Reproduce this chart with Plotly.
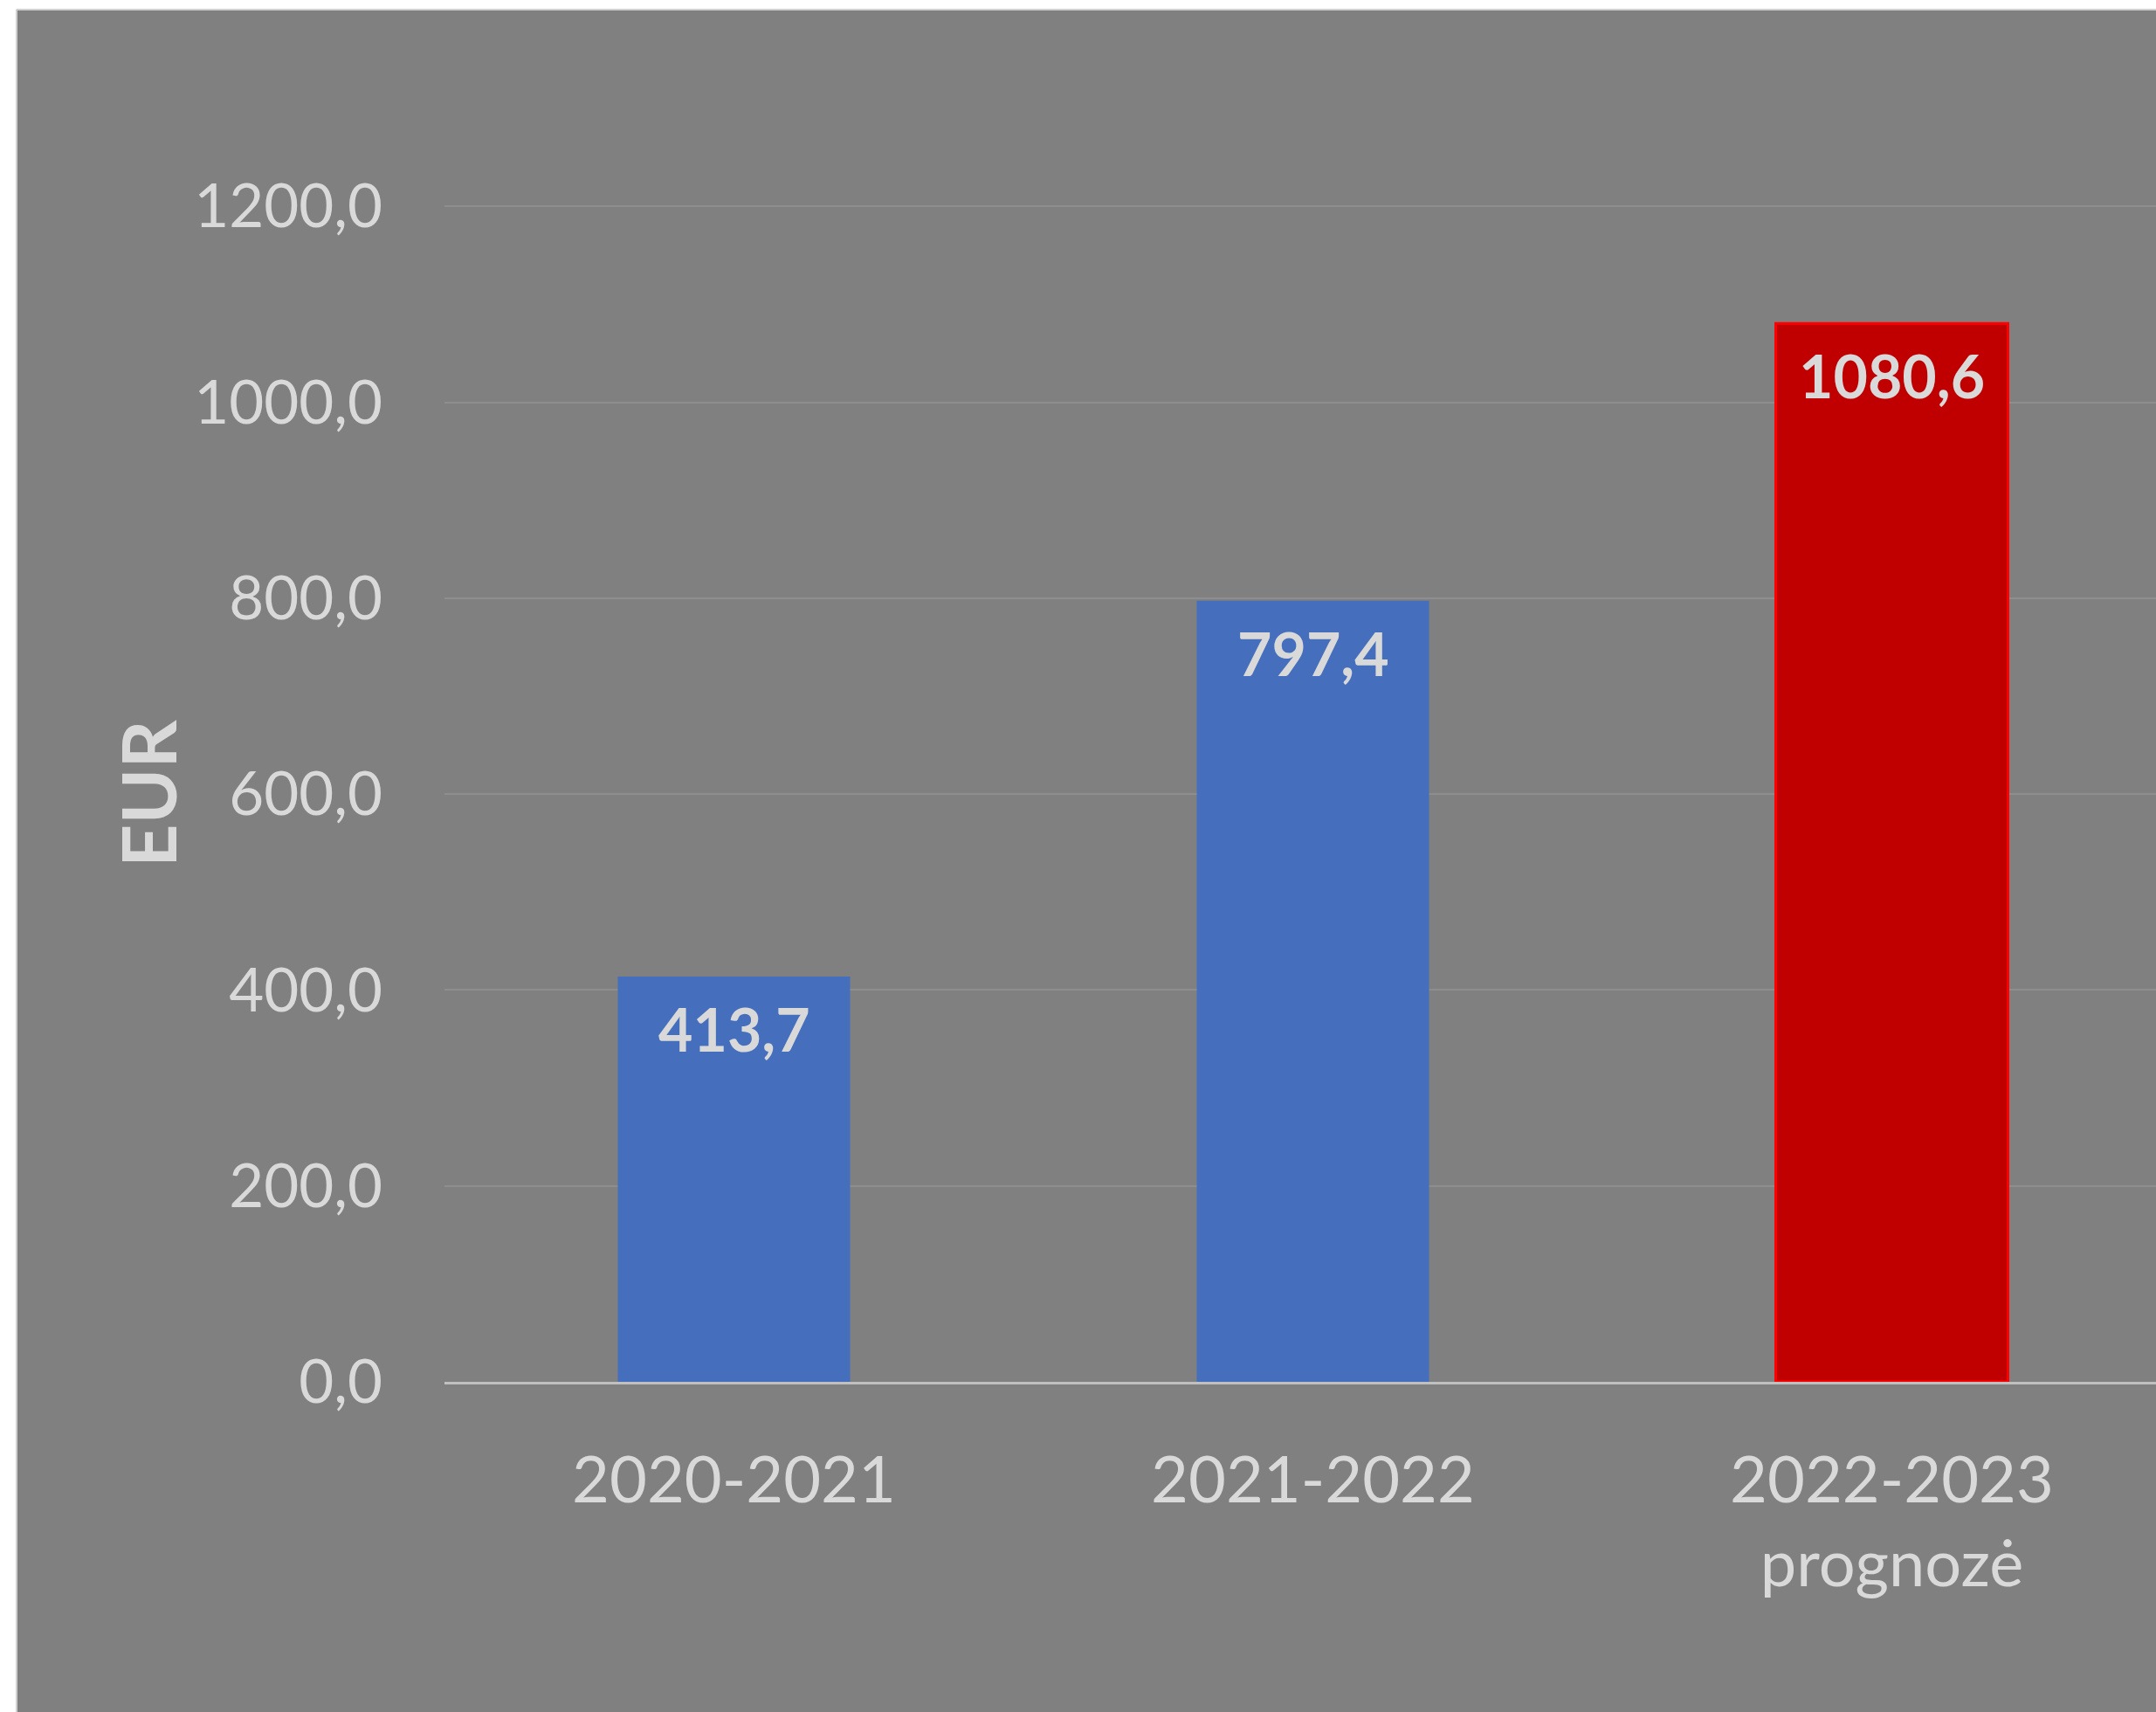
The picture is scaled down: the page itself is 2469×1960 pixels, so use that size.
import plotly.graph_objects as go

# ---- data ----
categories = ["2020-2021", "2021-2022", "2022-2023<br>prognozė"]
values = [413.7, 797.4, 1080.6]
value_labels = ["413,7", "797,4", "1080,6"]
y_tick_values = [0, 200, 400, 600, 800, 1000, 1200]
y_tick_labels = ["0,0", "200,0", "400,0", "600,0", "800,0", "1000,0", "1200,0"]
y_axis_title = "EUR"

# ---- styles ----
BG = "#808080"
TXT = "#D9D9D9"
bar_colors = ["#456FBD", "#456FBD", "#C00000"]
bar_line_colors = ["rgba(0,0,0,0)", "rgba(0,0,0,0)", "#FF0000"]
FONT = "Lato"

W, H = 2469, 1960
L, R, T, B = 509, 0, 12, 378
plot_w = W - L - R
plot_h = H - T - B
cat_px = 663.0

fig = go.Figure()
fig.add_trace(go.Bar(
    x=list(range(len(categories))),
    y=values,
    marker=dict(color=bar_colors, line=dict(color=bar_line_colors, width=3)),
    hoverinfo="skip",
))

for i, (v, lab) in enumerate(zip(values, value_labels)):
    fig.add_annotation(
        x=i, y=v, xref="x", yref="y", text="<b>%s</b>" % lab,
        showarrow=False, xanchor="center", yanchor="top", yshift=-17,
        font=dict(family=FONT, size=68, color=TXT),
    )

# y axis title
fig.add_annotation(
    xref="paper", yref="paper",
    x=(168 - L) / plot_w, y=(1582 - 909) / plot_h,
    xanchor="center", yanchor="middle",
    text="<b>%s</b>" % y_axis_title, textangle=-90, showarrow=False,
    font=dict(family=FONT, size=86, color=TXT),
)

# white frame strips (top and left) with light border line
fig.add_shape(type="rect", xref="paper", yref="paper",
              x0=-L / plot_w - 0.01, x1=(19 - L) / plot_w,
              y0=-B / plot_h - 0.01, y1=(plot_h + T) / plot_h + 0.01,
              fillcolor="white", line=dict(width=0), layer="below")
fig.add_shape(type="rect", xref="paper", yref="paper",
              x0=-L / plot_w - 0.01, x1=1.01,
              y0=(plot_h + T - 11) / plot_h, y1=(plot_h + T) / plot_h + 0.01,
              fillcolor="white", line=dict(width=0), layer="below")
fig.add_shape(type="line", xref="paper", yref="paper",
              x0=(19 - L) / plot_w, x1=(19 - L) / plot_w,
              y0=-B / plot_h - 0.01, y1=(plot_h + T - 11) / plot_h,
              line=dict(color="#D0D0D0", width=2), layer="below")
fig.add_shape(type="line", xref="paper", yref="paper",
              x0=(19 - L) / plot_w, x1=1.01,
              y0=(plot_h + T - 11) / plot_h, y1=(plot_h + T - 11) / plot_h,
              line=dict(color="#D0D0D0", width=2), layer="below")

fig.update_layout(
    width=W, height=H,
    margin=dict(l=L, r=R, t=T, b=B, pad=0),
    paper_bgcolor=BG, plot_bgcolor=BG,
    separators=", ",
    bargap=1 - 266 / cat_px,
    showlegend=False,
    font=dict(family=FONT, color=TXT),
    xaxis=dict(
        tickmode="array", tickvals=list(range(len(categories))), ticktext=categories,
        range=[-0.5, -0.5 + plot_w / cat_px],
        showgrid=False, zeroline=False,
        showline=True, linecolor="#C0C0C0", linewidth=3,
        ticks="", ticklabelstandoff=46,
        tickfont=dict(family=FONT, size=74, color=TXT),
        layer="above traces",
    ),
    yaxis=dict(
        range=[0, 1400],
        tickmode="array", tickvals=y_tick_values, ticktext=y_tick_labels,
        showgrid=True, gridcolor="#8E8E8E", gridwidth=2,
        zeroline=False, showline=False, ticks="",
        ticklabelstandoff=70,
        tickfont=dict(family=FONT, size=69, color=TXT),
    ),
)

fig.write_html("out.html")
